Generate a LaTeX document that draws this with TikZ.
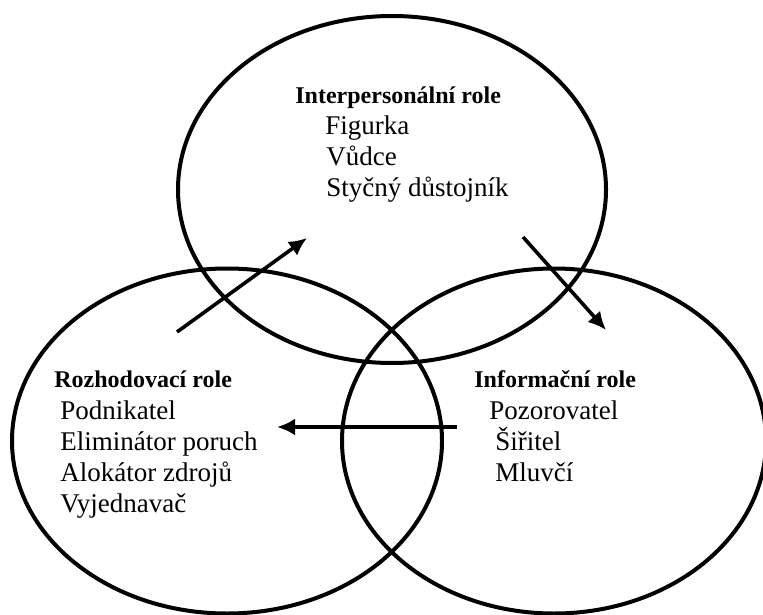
\documentclass[tikz,border=0pt]{standalone}
\usepackage{fontspec}
\setmainfont{Liberation Serif}
\usetikzlibrary{shapes.geometric,arrows.meta}

\begin{document}
\begin{tikzpicture}[x=0.5pt, y=-0.5pt,
    role/.style={draw, ellipse, line width=2pt, inner sep=0pt},
    head/.style={font=\fontsize{12}{14}\selectfont\bfseries, anchor=base west, inner sep=0pt},
    item/.style={font=\fontsize{13.5}{16}\selectfont, anchor=base west, inner sep=0pt},
    arr/.style={-{Latex[length=9pt, width=8.5pt]}, line width=1.8pt}]
      \useasboundingbox (0,0) rectangle (763,614);
      % the three roles
      \node (inter) [role, minimum width=214pt, minimum height=173.5pt] at (392,189.5) {};
      \node (rozh) [role, minimum width=215pt, minimum height=172.5pt] at (227,441) {};
      \node (info) [role, minimum width=212pt, minimum height=172.5pt] at (554,441) {};
      % texts
      \node (interH) [head] at (295,104) {Interpersonální role};
      \node (fig) [item] at ([xshift=15pt, yshift=-15.5pt]interH.base west) {Figurka};
      \node (vud) [item] at ([xshift=0.5pt, yshift=-15.5pt]fig.base west) {Vůdce};
      \node (styc) [item] at ([yshift=-15.5pt]vud.base west) {Styčný důstojník};
      \node (rozhH) [head] at (54,387) {Rozhodovací role};
      \node (podn) [item] at ([xshift=3pt, yshift=-16pt]rozhH.base west) {Podnikatel};
      \node (elim) [item] at ([yshift=-15.5pt]podn.base west) {Eliminátor poruch};
      \node (alok) [item] at ([yshift=-15.5pt]elim.base west) {Alokátor zdrojů};
      \node (vyje) [item] at ([yshift=-15.5pt]alok.base west) {Vyjednavač};
      \node (infoH) [head] at (474,387) {Informační role};
      \node (pozo) [item] at ([xshift=7.5pt, yshift=-16pt]infoH.base west) {Pozorovatel};
      \node (siri) [item] at ([xshift=3pt, yshift=-15.5pt]pozo.base west) {Šiřitel};
      \node (mluv) [item] at ([yshift=-15.5pt]siri.base west) {Mluvčí};
      % arrows
      \coordinate (rozhOut) at (177,332);
      \coordinate (interIn) at (307,238);
      \coordinate (interOut) at (523,237);
      \coordinate (infoIn) at (606,330);
      \coordinate (infoOut) at (457,427);
      \coordinate (rozhIn) at (277,427);
      \draw [arr] (rozhOut) -- (interIn);
      \draw [arr] (interOut) -- (infoIn);
      \draw [arr] (infoOut) -- (rozhIn);
\end{tikzpicture}
\end{document}
